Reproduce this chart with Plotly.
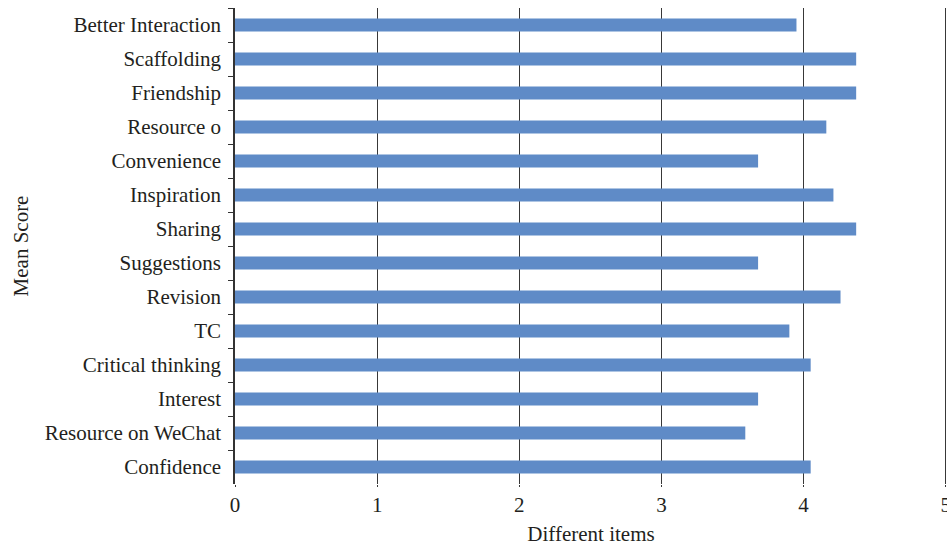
import plotly.graph_objects as go

# Survey items, listed top to bottom
items = [
    "Better Interaction", "Scaffolding", "Friendship", "Resource o",
    "Convenience", "Inspiration", "Sharing", "Suggestions", "Revision",
    "TC", "Critical thinking", "Interest", "Resource on WeChat", "Confidence",
]
mean_scores = [
    3.95, 4.37, 4.37, 4.16,
    3.68, 4.21, 4.37, 3.68, 4.26,
    3.90, 4.05, 3.68, 3.59, 4.05,
]
x_ticks = [0, 1, 2, 3, 4, 5]

FONT = "Liberation Serif"
INK = "#231f20"
SIZE = 21

fig = go.Figure(
    go.Bar(
        x=mean_scores,
        y=items,
        orientation="h",
        marker=dict(color="#5f8bc7", line=dict(width=0)),
        hoverinfo="x+y",
    )
)

fig.update_layout(
    width=947,
    height=546,
    margin=dict(l=235, r=0, t=8, b=62),
    paper_bgcolor="white",
    plot_bgcolor="white",
    bargap=0.62,
    showlegend=False,
    font=dict(family=FONT, size=SIZE, color=INK),
)

fig.update_xaxes(
    range=[0, 5.009],
    automargin=False,
    tickvals=x_ticks,
    ticktext=[str(v) for v in x_ticks],
    ticklabeloverflow="allow",
    showgrid=True,
    gridcolor="#383838",
    gridwidth=1.3,
    zeroline=False,
    showline=False,
    ticks="outside",
    ticklen=2,
    tickcolor="#383838",
    tickfont=dict(family=FONT, size=SIZE, color=INK),
    title=dict(text="Different items", font=dict(family=FONT, size=SIZE, color=INK), standoff=10),
)

fig.update_yaxes(
    autorange="reversed",
    categoryorder="array",
    categoryarray=items,
    showline=True,
    linecolor="#333333",
    linewidth=1.5,
    ticks="outside",
    tickson="boundaries",
    ticklen=5,
    tickcolor="#333333",
    ticklabelstandoff=8,
    showgrid=False,
    tickfont=dict(family=FONT, size=SIZE, color=INK),
    title=dict(text="Mean Score", font=dict(family=FONT, size=SIZE, color=INK), standoff=10),
)

fig.write_html("out.html")
